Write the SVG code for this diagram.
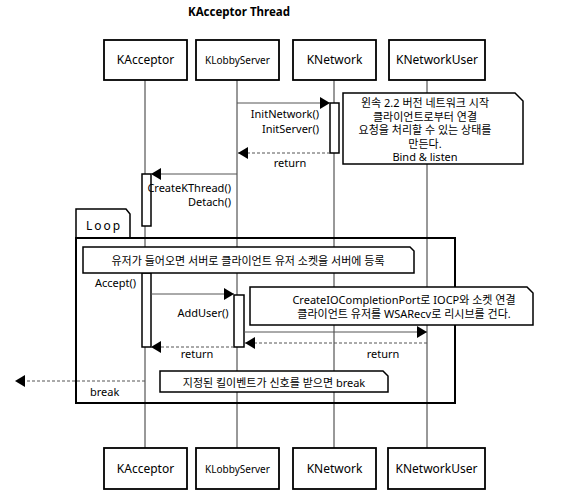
<svg xmlns="http://www.w3.org/2000/svg" width="562" height="490" viewBox="0 0 562 490">
<style>
text{font-family:"Noto Sans","Noto Sans CJK KR",sans-serif;font-size:11px;fill:#000}
.box{fill:#fff;stroke:#000;stroke-width:1.8}
.life{stroke:#333;stroke-width:1;fill:none}
.act{fill:#fff;stroke:#000;stroke-width:1.5}
.msg{stroke:#555;stroke-width:1;fill:none}
.ret{stroke:#555;stroke-width:1;fill:none;stroke-dasharray:3,2}
.note{fill:#fff;stroke:#000;stroke-width:1.5}
.c{text-anchor:middle}
.e{text-anchor:end}
</style>
<defs>
<marker id="ah" viewBox="0 0 10 12" refX="10" refY="6" markerWidth="10" markerHeight="12" markerUnits="userSpaceOnUse" orient="auto">
<path d="M0,0 L10,6 L0,12 z" fill="#000"/>
</marker>
</defs>
<rect width="562" height="490" fill="#fff"/>
<text x="239" y="16" class="c" style="font-weight:bold;font-size:11.5px">KAcceptor Thread</text>

<g id="lifelines">
<line class="life" x1="145" y1="80" x2="145" y2="448"/>
<line class="life" x1="237" y1="80" x2="237" y2="448"/>
<line class="life" x1="334" y1="80" x2="334" y2="448"/>
<line class="life" x1="427" y1="80" x2="427" y2="448"/>
</g>

<g id="loop">
<path d="M76,238 L76,209 L126,209 L130,214 L130,238" fill="#fff" stroke="#000" stroke-width="1.5"/>
<rect x="76" y="238" width="379" height="165" fill="none" stroke="#000" stroke-width="2"/>
<text x="86" y="230" style="font-size:12px;letter-spacing:2px">Loop</text>
<text x="90" y="396">break</text>
</g>

<g id="KAcceptor">
<rect class="box" x="104" y="40" width="83" height="40"/>
<text x="145.5" y="64" class="c" style="font-size:12px">KAcceptor</text>
<rect class="box" x="104" y="448" width="83" height="41"/>
<text x="145.5" y="473" class="c" style="font-size:12px">KAcceptor</text>
</g>
<g id="KLobbyServer">
<rect class="box" x="196" y="40" width="83" height="40"/>
<text x="237.5" y="64" class="c" style="font-size:10px">KLobbyServer</text>
<rect class="box" x="196" y="448" width="83" height="41"/>
<text x="237.5" y="473" class="c" style="font-size:10px">KLobbyServer</text>
</g>
<g id="KNetwork">
<rect class="box" x="293" y="40" width="83" height="40"/>
<text x="334.5" y="64" class="c" style="font-size:12px">KNetwork</text>
<rect class="box" x="293" y="448" width="83" height="41"/>
<text x="334.5" y="473" class="c" style="font-size:12px">KNetwork</text>
</g>
<g id="KNetworkUser">
<rect class="box" x="389" y="40" width="96" height="40"/>
<text x="437" y="64" class="c" style="font-size:12px">KNetworkUser</text>
<rect class="box" x="388" y="448" width="97" height="41"/>
<text x="436.5" y="473" class="c" style="font-size:12px">KNetworkUser</text>
</g>

<g id="activations">
<rect class="act" x="330" y="103" width="9" height="50"/>
<rect class="act" x="142" y="174" width="9" height="52"/>
<rect class="act" x="142" y="273" width="9" height="74"/>
<rect class="act" x="234" y="295" width="10" height="52"/>
</g>

<g id="note1">
<path class="note" d="M343,93 L515,93 L523,101 L523,164 L343,164 Z"/>
<text x="425" y="107" class="c">윈속 2.2 버전 네트워크 시작</text>
<text x="425" y="120.5" class="c">클라이언트로부터 연결</text>
<text x="425" y="134" class="c">요청을 처리할 수 있는 상태를</text>
<text x="425" y="147.5" class="c">만든다.</text>
<text x="425" y="161" class="c">Bind &amp; listen</text>
</g>
<g id="note2">
<path class="note" d="M83,247 L410,247 L414,251 L414,273 L83,273 Z"/>
<text x="248" y="265" class="c">유저가 들어오면 서버로 클라이언트 유저 소켓을 서버에 등록</text>
</g>
<g id="note3">
<path class="note" d="M250,287 L527,287 L533,293 L533,325 L250,325 Z"/>
<text x="404" y="304" class="c">CreateIOCompletionPort로 IOCP와 소켓 연결</text>
<text x="404" y="317.5" class="c">클라이언트 유저를 WSARecv로 리시브를 건다.</text>
</g>
<g id="note4">
<path class="note" d="M160,371 L383,371 L388,376 L388,392 L160,392 Z"/>
<text x="274" y="387" class="c">지정된 킬이벤트가 신호를 받으면 break</text>
</g>

<g id="connectors">
<line class="msg" x1="237" y1="103" x2="330" y2="103" marker-end="url(#ah)"/>
<line class="ret" x1="330" y1="153" x2="238" y2="153" marker-end="url(#ah)"/>
<line class="msg" x1="237" y1="174" x2="151" y2="174" marker-end="url(#ah)"/>
<line class="msg" x1="151" y1="294" x2="234" y2="294" marker-end="url(#ah)"/>
<line class="msg" x1="244" y1="332" x2="427" y2="332" marker-end="url(#ah)"/>
<line class="ret" x1="427" y1="343" x2="245" y2="343" marker-end="url(#ah)"/>
<line class="ret" x1="234" y1="347" x2="151" y2="347" marker-end="url(#ah)"/>
<line class="ret" x1="145" y1="381" x2="15" y2="381" marker-end="url(#ah)"/>
<text x="319" y="118" class="e">InitNetwork()</text>
<text x="319" y="133" class="e">InitServer()</text>
<text x="290" y="167" class="c">return</text>
<text x="231" y="191.5" class="e">CreateKThread()</text>
<text x="231" y="205.5" class="e">Detach()</text>
<text x="95" y="287">Accept()</text>
<text x="203" y="317" class="c">AddUser()</text>
<text x="197" y="358" class="c">return</text>
<text x="383" y="358" class="c">return</text>
</g>
</svg>
